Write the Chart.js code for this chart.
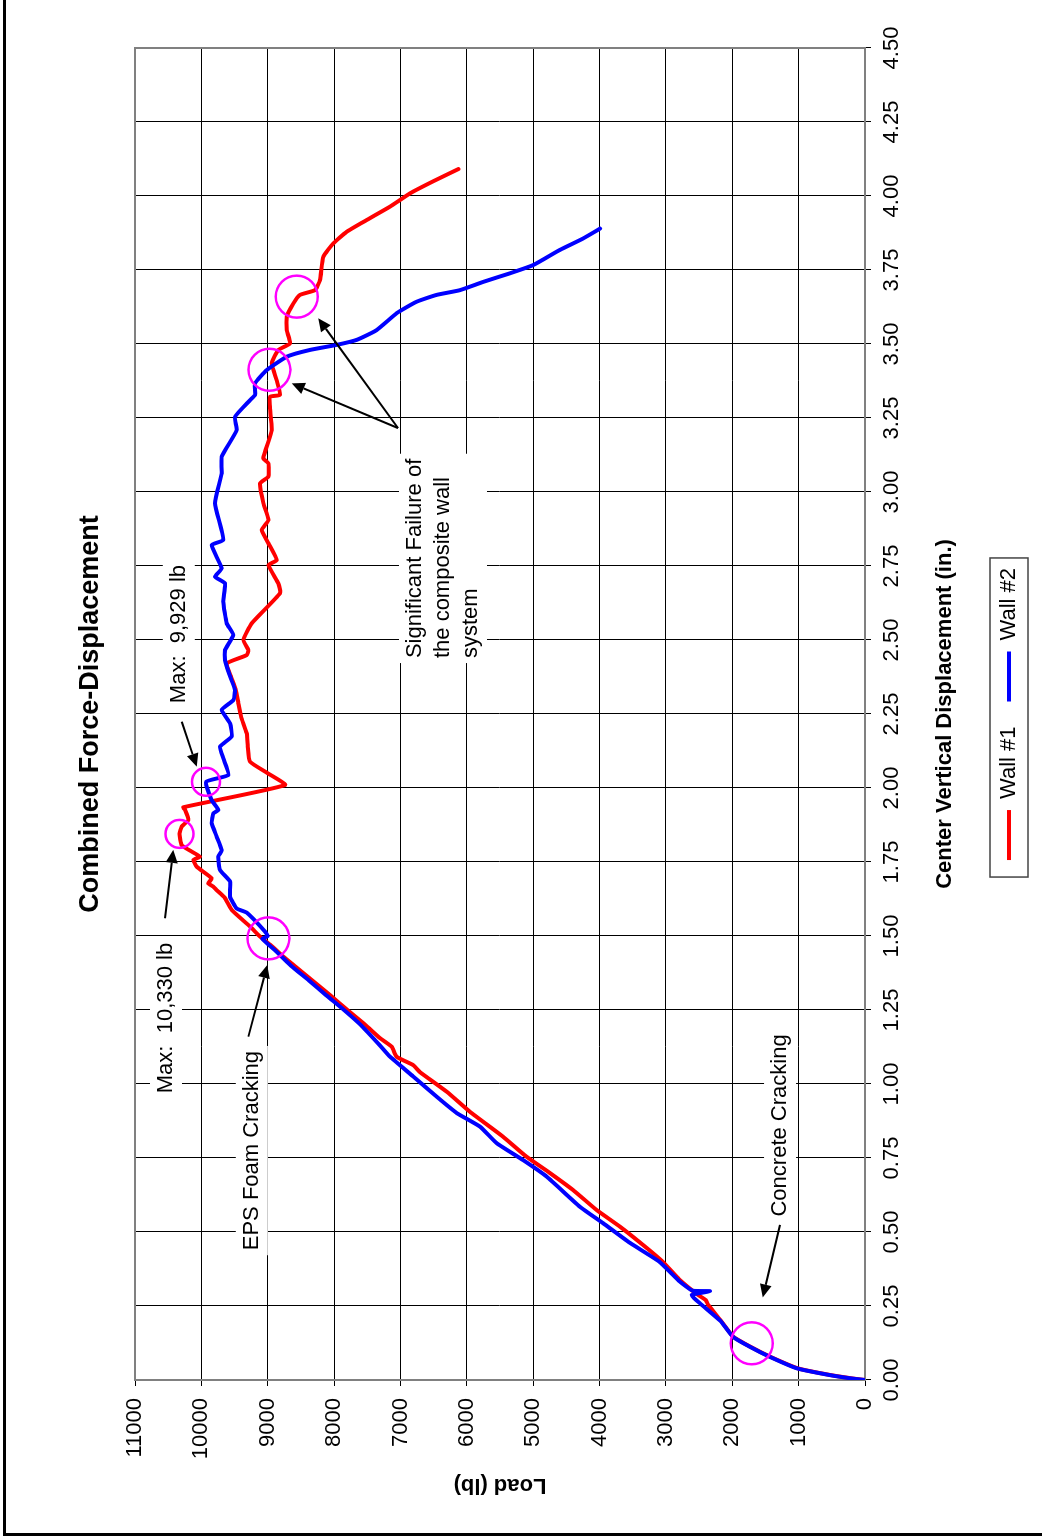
<!DOCTYPE html>
<html>
<head>
<meta charset="utf-8">
<title>Combined Force-Displacement</title>
<script src="https://cdn.jsdelivr.net/npm/chart.js@4.4.1/dist/chart.umd.min.js"></script>
<style>
html, body { margin: 0; padding: 0; width: 1045px; height: 1539px; overflow: hidden; background: #fff; }
#frame { position: absolute; left: 3px; top: 0; width: 1036px; height: 1533px; border-left: 3px solid #000; border-bottom: 3px solid #000; }
/* the chart is drawn upright and turned a quarter turn to the left */
#turn { position: absolute; left: 0; top: 0; width: 1539px; height: 1045px; transform-origin: 0 0; transform: translateY(1539px) rotate(-90deg); }
#turn canvas { display: block; }
</style>
</head>
<body>
<div id="frame"></div>
<div id="turn"><canvas id="chart" width="1539" height="1045"></canvas></div>
<script>
var FONT = "'Liberation Sans', Arial, sans-serif";

// Wall #1
var disp1 = [0, 0.005, 0.017, 0.039, 0.079, 0.113, 0.146, 0.200, 0.253, 0.270, 0.285, 0.300, 0.340, 0.400, 0.446,
    0.518, 0.574, 0.642, 0.699, 0.754, 0.822, 0.906, 0.974, 1.040, 1.064, 1.092, 1.126, 1.155, 1.200, 1.250,
    1.300, 1.350, 1.400, 1.430, 1.470, 1.498, 1.532, 1.588, 1.630, 1.655, 1.667, 1.678, 1.695, 1.734, 1.757,
    1.768, 1.785, 1.807, 1.845, 1.870, 1.892, 1.926, 1.935, 2.010, 2.050, 2.089, 2.140, 2.185, 2.240, 2.286,
    2.330, 2.380, 2.421, 2.449, 2.466, 2.500, 2.556, 2.658, 2.691, 2.753, 2.770, 2.827, 2.872, 2.905, 2.962,
    3.029, 3.052, 3.097, 3.114, 3.209, 3.283, 3.322, 3.328, 3.378, 3.435, 3.480, 3.502, 3.547, 3.592, 3.637,
    3.666, 3.682, 3.716, 3.795, 3.840, 3.879, 3.919, 3.964, 4.009, 4.050, 4.091];
var load1 = [0, 180, 527, 1005, 1431, 1733, 1984, 2170, 2361, 2400, 2500, 2590, 2800, 3050, 3289,
    3692, 4043, 4400, 4746, 5098, 5454, 5952, 6303, 6705, 6810, 7057, 7131, 7308, 7530, 7800,
    8060, 8330, 8600, 8764, 8960, 9116, 9267, 9543, 9650, 9769, 9820, 9895, 9845, 10070, 10120,
    10020, 10145, 10296, 10330, 10296, 10196, 10246, 10271, 8740, 9000, 9267, 9300, 9317, 9400, 9443,
    9480, 9560, 9618, 9317, 9292, 9367, 9242, 8815, 8840, 8990, 8865, 8990, 9091, 8990, 9066,
    9116, 8990, 8990, 9066, 8940, 8966, 8966, 8815, 8865, 8940, 8840, 8664, 8714, 8714, 8614,
    8514, 8288, 8212, 8162, 8011, 7810, 7508, 7157, 6856, 6504, 6127];

// Wall #2
var disp2 = [0, 0.005, 0.017, 0.039, 0.079, 0.113, 0.146, 0.200, 0.259, 0.287, 0.300, 0.302, 0.332, 0.400, 0.463,
    0.530, 0.585, 0.687, 0.743, 0.800, 0.856, 0.902, 0.957, 1.026, 1.092, 1.130, 1.200, 1.250, 1.300, 1.350,
    1.400, 1.450, 1.490, 1.500, 1.515, 1.579, 1.593, 1.633, 1.684, 1.723, 1.768, 1.790, 1.836, 1.881, 1.914,
    1.926, 1.959, 2.021, 2.044, 2.100, 2.140, 2.174, 2.218, 2.264, 2.297, 2.331, 2.377, 2.432, 2.466, 2.517,
    2.556, 2.630, 2.691, 2.714, 2.742, 2.821, 2.838, 2.962, 3.063, 3.119, 3.209, 3.254, 3.310, 3.328, 3.367,
    3.412, 3.457, 3.480, 3.497, 3.514, 3.547, 3.604, 3.643, 3.666, 3.682, 3.710, 3.739, 3.767, 3.818, 3.857,
    3.890];
var load2 = [0, 200, 540, 1020, 1440, 1740, 1990, 2180, 2486, 2612, 2335, 2600, 2788, 3100, 3541,
    3948, 4294, 4796, 5153, 5550, 5801, 6152, 6454, 6810, 7157, 7308, 7600, 7850, 8120, 8380,
    8650, 8880, 9080, 9000, 9040, 9317, 9468, 9568, 9568, 9719, 9744, 9694, 9769, 9845, 9820,
    9744, 9845, 9929, 9594, 9669, 9719, 9543, 9568, 9694, 9518, 9493, 9568, 9644, 9644, 9518,
    9618, 9669, 9644, 9794, 9694, 9845, 9669, 9794, 9694, 9694, 9468, 9493, 9267, 9191, 9191,
    9015, 8714, 8363, 7961, 7659, 7358, 7057, 6755, 6454, 6102, 5751, 5349, 4997, 4596, 4244,
    3992];

// circled events: concrete cracking, EPS foam cracking, the two failure points
var eventDisp = [0.124, 1.492, 3.413, 3.660];
var eventLoad = [1707, 8990, 8975, 8563];
// circled maxima
var maxDisp = [1.845, 2.021];
var maxLoad = [10330, 9929];

var dispTicks = [0, 0.25, 0.5, 0.75, 1, 1.25, 1.5, 1.75, 2, 2.25, 2.5, 2.75, 3, 3.25, 3.5, 3.75, 4, 4.25, 4.5];
var loadTicks = [0, 1000, 2000, 3000, 4000, 5000, 6000, 7000, 8000, 9000, 10000, 11000];

// callouts, placed in data units (displacement, load)
var notes = [
    { lines: ['Concrete Cracking'], x: 0.86, y: 1280, arrows: [[0.524, 1281, 0.279, 1541]] },
    { lines: ['EPS Foam Cracking'], x: 0.775, y: 9240, arrows: [[1.16, 9292, 1.402, 9006]] },
    { lines: ['Max:  10,330 lb'], x: 1.223, y: 10533, arrows: [[1.56, 10548, 1.791, 10422]] },
    { lines: ['Max:  9,929 lb'], x: 2.52, y: 10340, arrows: [[2.224, 10295, 2.072, 10069]] },
    { lines: ['Significant Failure of', 'the composite wall', 'system'], align: 'left', x: 2.439, y: 6781,
      arrows: [[3.216, 7037, 3.367, 8639], [3.216, 7037, 3.587, 8238]] }
];

function pairs(xs, ys) {
    return xs.map(function(x, i) { return {x: x, y: ys[i]}; });
}

function arrow(c, x1, y1, x2, y2) {
    var a = Math.atan2(y2 - y1, x2 - x1), len = 13, half = 6;
    var bx = x2 - len * Math.cos(a), by = y2 - len * Math.sin(a);
    c.beginPath();
    c.moveTo(x1, y1);
    c.lineTo(bx, by);
    c.stroke();
    c.beginPath();
    c.moveTo(x2, y2);
    c.lineTo(bx + half * Math.sin(a), by - half * Math.cos(a));
    c.lineTo(bx - half * Math.sin(a), by + half * Math.cos(a));
    c.closePath();
    c.fill();
}

var notesPlugin = {
    id: 'notes',
    beforeDatasetsDraw: function(chart) {
        var c = chart.ctx, sx = chart.scales.x, sy = chart.scales.y, area = chart.chartArea;
        c.save();
        c.strokeStyle = '#808080';
        c.lineWidth = 2;
        c.strokeRect(area.left, area.top, area.right - area.left, area.bottom - area.top);

        c.font = '22px ' + FONT;
        c.textBaseline = 'middle';
        c.textAlign = 'left';
        notes.forEach(function(n) {
            var w = Math.max.apply(null, n.lines.map(function(t) { return c.measureText(t).width; }));
            var px = sx.getPixelForValue(n.x), py = sy.getPixelForValue(n.y);
            var left = n.align === 'left' ? px : px - w / 2;
            var lh = 28;
            c.fillStyle = '#fff';
            c.fillRect(left - 5, py - 16, w + 10, (n.lines.length - 1) * lh + 32);
            c.fillStyle = '#000';
            n.lines.forEach(function(t, i) { c.fillText(t, left, py + i * lh); });
        });
        c.restore();
    },
    afterDatasetsDraw: function(chart) {
        var c = chart.ctx, sx = chart.scales.x, sy = chart.scales.y;
        c.save();
        c.strokeStyle = '#000';
        c.fillStyle = '#000';
        c.lineWidth = 2;
        notes.forEach(function(n) {
            n.arrows.forEach(function(a) {
                arrow(c, sx.getPixelForValue(a[0]), sy.getPixelForValue(a[1]),
                    sx.getPixelForValue(a[2]), sy.getPixelForValue(a[3]));
            });
        });
        c.restore();
    },
    afterDraw: function(chart) {
        // box round the legend
        var hb = chart.legend && chart.legend.legendHitBoxes;
        if (!hb || !hb.length) return;
        var c = chart.ctx, last = hb[hb.length - 1];
        var yc = hb[0].top + hb[0].height / 2;
        var x1 = hb[0].left - 17, x2 = last.left + last.width + 10;
        c.save();
        c.strokeStyle = '#444';
        c.lineWidth = 1.5;
        c.strokeRect(x1, yc - 19, x2 - x1, 38);
        c.restore();
    }
};

var ring = {
    showLine: false,
    borderColor: '#ff00ff',
    backgroundColor: 'rgba(0,0,0,0)',
    borderWidth: 2.5,
    pointStyle: 'circle'
};

var ctx = document.getElementById('chart').getContext('2d');
var chart = new Chart(ctx, {
    type: 'scatter',
    data: {
        datasets: [{
            label: 'Wall #1',
            data: pairs(disp1, load1),
            showLine: true,
            borderColor: '#ff0000',
            backgroundColor: '#ff0000',
            borderWidth: 4,
            borderJoinStyle: 'round',
            borderCapStyle: 'round',
            tension: 0.15,
            pointRadius: 0,
            order: 2
        }, {
            label: 'Wall #2',
            data: pairs(disp2, load2),
            showLine: true,
            borderColor: '#0000ff',
            backgroundColor: '#0000ff',
            borderWidth: 4,
            borderJoinStyle: 'round',
            borderCapStyle: 'round',
            tension: 0.15,
            pointRadius: 0,
            order: 1
        }, Object.assign({ data: pairs(eventDisp, eventLoad), pointRadius: 21, order: 0 }, ring),
           Object.assign({ data: pairs(maxDisp, maxLoad), pointRadius: 14, order: 0 }, ring)]
    },
    options: {
        responsive: false,
        animation: false,
        events: [],
        layout: { padding: { top: 0, left: 0, right: 48, bottom: 15 } },
        scales: {
            x: {
                type: 'linear',
                position: 'bottom',
                min: dispTicks[0],
                max: dispTicks[dispTicks.length - 1],
                afterBuildTicks: function(s) { s.ticks = dispTicks.map(function(v) { return {value: v}; }); },
                afterFit: function(s) { s.height = 108; },
                ticks: {
                    autoSkip: false, maxRotation: 0, padding: 8, color: '#000',
                    font: { size: 22, family: FONT },
                    callback: function(v) { return Number(v).toFixed(2); }
                },
                grid: { color: '#000', lineWidth: 1, tickLength: 6, tickColor: '#000' },
                border: { color: '#808080', width: 2 },
                title: {
                    display: true, text: 'Center Vertical Displacement (in.)', color: '#000',
                    font: { size: 22, weight: 'bold', family: FONT, lineHeight: 1.2 },
                    padding: { top: 0, bottom: 14.8 }
                }
            },
            y: {
                type: 'linear',
                position: 'left',
                min: loadTicks[0],
                max: loadTicks[loadTicks.length - 1],
                afterBuildTicks: function(s) { s.ticks = loadTicks.map(function(v) { return {value: v}; }); },
                afterFit: function(s) { s.width = 159; },
                ticks: {
                    padding: 12, color: '#000',
                    font: { size: 22, family: FONT },
                    callback: function(v) { return String(v); }
                },
                grid: { color: '#000', lineWidth: 1, tickLength: 6, tickColor: '#000' },
                border: { color: '#808080', width: 2 },
                title: {
                    display: true, text: 'Load (lb)', color: '#000',
                    font: { size: 22, weight: 'bold', family: FONT, lineHeight: 1.2 },
                    padding: { top: 40.8, bottom: 0 }
                }
            }
        },
        plugins: {
            tooltip: { enabled: false },
            title: {
                display: true,
                fullSize: false,
                text: 'Combined Force-Displacement',
                color: '#000',
                font: { size: 27, weight: 'bold', family: FONT, lineHeight: 1.2 },
                padding: { top: 74, bottom: 28.6 }
            },
            legend: {
                position: 'bottom',
                fullSize: false,
                labels: {
                    boxWidth: 50,
                    boxHeight: 4,
                    padding: 25,
                    color: '#000',
                    font: { size: 22, family: FONT },
                    generateLabels: function(chart) {
                        return chart.data.datasets.map(function(ds, i) {
                            return { text: ds.label, fillStyle: ds.borderColor, strokeStyle: ds.borderColor,
                                     lineWidth: 0, hidden: false, datasetIndex: i };
                        }).filter(function(it) { return !!it.text; });
                    }
                }
            }
        }
    },
    plugins: [notesPlugin]
});
</script>
</body>
</html>
